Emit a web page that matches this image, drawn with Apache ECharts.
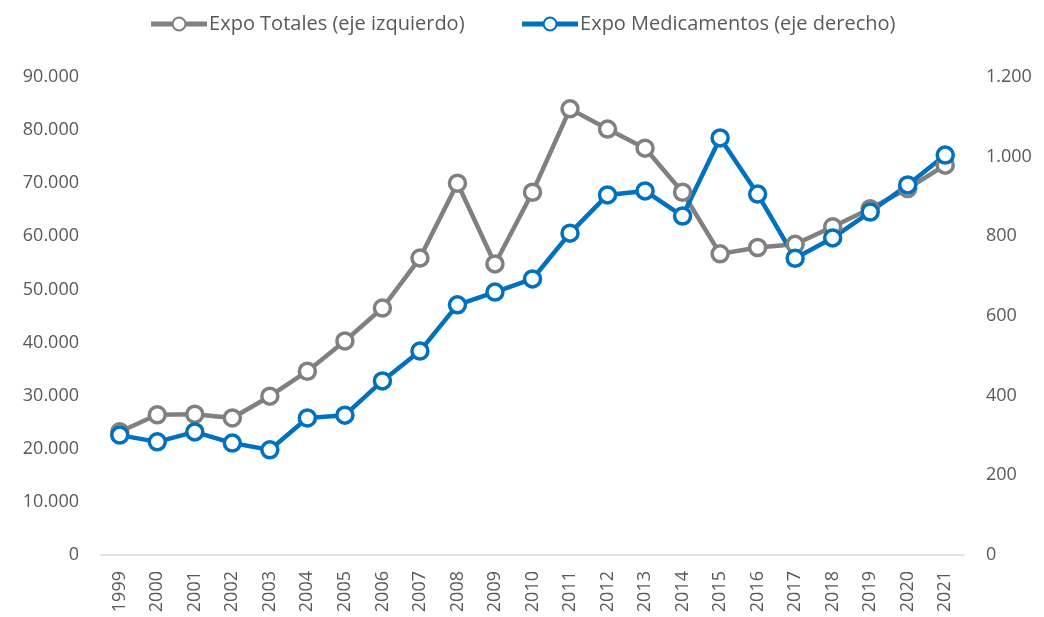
<!DOCTYPE html>
<html>
<head>
<meta charset="utf-8">
<script src="https://cdn.jsdelivr.net/npm/echarts@6/dist/echarts.min.js"></script>
<style>
  html, body { margin: 0; padding: 0; background: #fff; }
  #chart { width: 1044px; height: 617px; }
</style>
</head>
<body>
<div id="chart"></div>
<script>
// años
const years = ['1999','2000','2001','2002','2003','2004','2005','2006','2007','2008','2009','2010',
  '2011','2012','2013','2014','2015','2016','2017','2018','2019','2020','2021'];
// Expo Totales (eje izquierdo)
const expoTotales = [23200, 26400, 26500, 25800, 29900, 34600, 40300, 46500, 55900, 70000, 54800, 68300,
  84000, 80200, 76600, 68300, 56700, 57900, 58500, 61800, 65200, 69000, 73400];
// Expo Medicamentos (eje derecho)
const expoMedicamentos = [301, 284, 309, 281, 264, 344, 351, 437, 512, 628, 660, 693,
  808, 904, 914, 851, 1047, 906, 745, 796, 861, 929, 1004];

const fmt = v => v.toLocaleString('de-DE');
const txt = '#595959';

const chart = echarts.init(document.getElementById('chart'));
chart.setOption({
  animation: false,
  legend: {
    top: 9,
    left: 'center',
    itemGap: 55,
    itemWidth: 56,
    itemHeight: 16,
    lineStyle: { width: 5 },
    textStyle: { fontFamily: 'Open Sans', fontSize: 20, color: txt, padding: [0, 0, 0, -3] },
    data: ['Expo Totales (eje izquierdo)', 'Expo Medicamentos (eje derecho)']
  },
  grid: { left: 101, right: 80, top: 77, bottom: 62 },
  xAxis: {
    type: 'category',
    data: years,
    axisLine: { lineStyle: { color: '#d9d9d9', width: 1.5 } },
    axisTick: { show: false },
    axisLabel: { rotate: 90, fontFamily: 'Open Sans', fontSize: 18, color: txt, margin: 16 }
  },
  yAxis: [
    {
      type: 'value', min: 0, max: 90000, interval: 10000,
      splitLine: { show: false },
      axisLabel: { formatter: fmt, fontFamily: 'Open Sans', fontSize: 18, color: txt, margin: 22 }
    },
    {
      type: 'value', min: 0, max: 1200, interval: 200,
      splitLine: { show: false },
      axisLabel: { formatter: fmt, fontFamily: 'Open Sans', fontSize: 18, color: txt, margin: 22 }
    }
  ],
  series: [
    {
      name: 'Expo Totales (eje izquierdo)',
      type: 'line',
      yAxisIndex: 0,
      data: expoTotales,
      symbol: 'circle',
      symbolSize: 16,
      lineStyle: { color: '#808080', width: 4.5 },
      itemStyle: { color: '#fff', borderColor: '#808080', borderWidth: 3.5 }
    },
    {
      name: 'Expo Medicamentos (eje derecho)',
      type: 'line',
      yAxisIndex: 1,
      data: expoMedicamentos,
      symbol: 'circle',
      symbolSize: 16,
      lineStyle: { color: '#0070c0', width: 4.5 },
      itemStyle: { color: '#fff', borderColor: '#0070c0', borderWidth: 3.5 }
    }
  ]
});
</script>
</body>
</html>
